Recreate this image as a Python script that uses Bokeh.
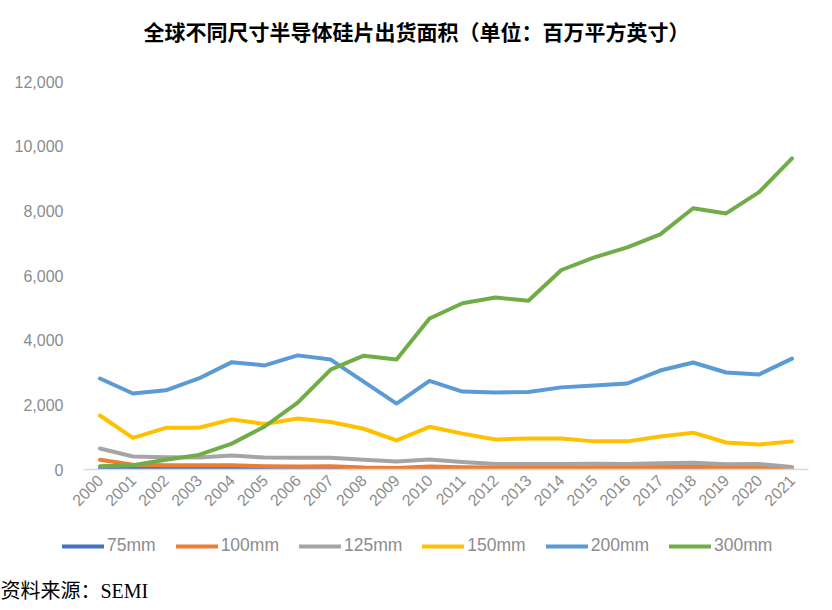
from bokeh.plotting import figure
from bokeh.layouts import column
from bokeh.models import (Range1d, FixedTicker, NumeralTickFormatter, Legend, LegendItem, Label)
from bokeh.embed import file_html
from bokeh.resources import INLINE
import math

years = [str(y) for y in range(2000, 2022)]

s75 = [30, 20, 20, 20, 30, 20, 20, 20, 10, 10, 20, 10, 10, 10, 10, 10, 10, 10, 10, 10, 10, 10]
s100 = [300, 150, 130, 130, 130, 100, 90, 100, 60, 50, 90, 70, 60, 60, 60, 70, 70, 80, 90, 60, 60, 20]
s125 = [650, 400, 380, 370, 430, 370, 360, 360, 300, 250, 310, 230, 170, 170, 170, 180, 170, 190, 210, 160, 170, 80]
s150 = [1670, 980, 1290, 1290, 1550, 1410, 1580, 1470, 1260, 900, 1320, 1110, 930, 960, 960, 870, 870, 1020, 1140, 835, 770, 870]
s200 = [2815, 2350, 2450, 2815, 3320, 3220, 3530, 3400, 2720, 2040, 2740, 2410, 2380, 2400, 2540, 2600, 2660, 3060, 3310, 3000, 2940, 3430]
s300 = [100, 130, 300, 450, 800, 1330, 2070, 3090, 3520, 3400, 4670, 5140, 5320, 5220, 6170, 6560, 6870, 7270, 8080, 7920, 8580, 9620]

names = ["75mm", "100mm", "125mm", "150mm", "200mm", "300mm"]
series = [s75, s100, s125, s150, s200, s300]
colors = ["#4472C4", "#ED7D31", "#A5A5A5", "#FFC000", "#5B9BD5", "#70AD47"]

title_text = "全球不同尺寸半导体硅片出货面积（单位：百万平方英寸）"
source_text = "资料来源：SEMI"

GRAY = "#8c8c8c"
LEFT, RIGHT = 83, 8
W = 816


def strip(h):
    # full-width frame, opted out of the column's frame alignment
    f = figure(width=W, height=h, x_range=Range1d(0, W), y_range=Range1d(0, h),
               output_backend="svg", toolbar_location=None,
               min_border_left=0, min_border_right=0, min_border_top=0, min_border_bottom=0,
               x_axis_type=None, y_axis_type=None)
    try:
        f.frame_align = False
    except Exception:
        pass
    f.xgrid.visible = False
    f.ygrid.visible = False
    f.outline_line_color = None
    return f


# title strip
p0 = strip(71)
p0.add_layout(Label(x=416, y=71 - 30, text=title_text,
                    text_align="center", text_baseline="middle",
                    text_font="Noto Sans CJK SC", text_font_size="21px", text_font_style="bold",
                    text_color="#000000"))

# main chart
p = figure(width=W, height=460, x_range=years, y_range=Range1d(0, 12000),
           output_backend="svg", toolbar_location=None,
           min_border_left=LEFT, min_border_right=RIGHT, min_border_top=10, min_border_bottom=62)

for name, data, col in zip(names, series, colors):
    p.line(years, data, line_color=col, line_width=4, line_join="round", line_cap="round")

p.xgrid.visible = False
p.ygrid.visible = False
p.outline_line_color = None

ya = p.yaxis[0]
ya.ticker = FixedTicker(ticks=list(range(0, 12001, 2000)))
ya.formatter = NumeralTickFormatter(format="0,0")
ya.axis_line_color = None
ya.major_tick_line_color = None
ya.minor_tick_line_color = None
ya.major_tick_out = 0
ya.major_label_standoff = 20
ya.major_label_text_font = "Liberation Sans"
ya.major_label_text_font_size = "16px"
ya.major_label_text_color = GRAY

xa = p.xaxis[0]
xa.axis_line_color = "#d9d9d9"
xa.axis_line_width = 1.5
xa.major_tick_line_color = None
xa.minor_tick_line_color = None
xa.major_tick_out = 0
xa.major_label_orientation = math.pi / 4
xa.major_label_standoff = 8
xa.major_label_text_font = "Liberation Sans"
xa.major_label_text_font_size = "16px"
xa.major_label_text_color = GRAY

# lower strip: legend + source note
p2 = strip(70)
items = []
for name, col in zip(names, colors):
    r = p2.line([-500, -490], [-100, -100], line_color=col, line_width=4, line_cap="round")
    items.append(LegendItem(label=name, renderers=[r]))

legend = Legend(items=items, orientation="horizontal", location=(62, 45),
                label_text_font="Liberation Sans", label_text_font_size="17.5px",
                label_text_color=GRAY, glyph_width=42, glyph_height=18, label_height=18,
                spacing=20, label_standoff=3, border_line_color=None,
                background_fill_alpha=0, margin=0, padding=0)
p2.add_layout(legend)

p2.add_layout(Label(x=0, y=11, text=source_text, text_baseline="middle",
                    text_font="Liberation Serif, Noto Sans CJK SC", text_font_size="20px",
                    text_color="#000000"))

layout = column(p0, p, p2, spacing=0)
open("out.html", "w").write(file_html(layout, INLINE))
